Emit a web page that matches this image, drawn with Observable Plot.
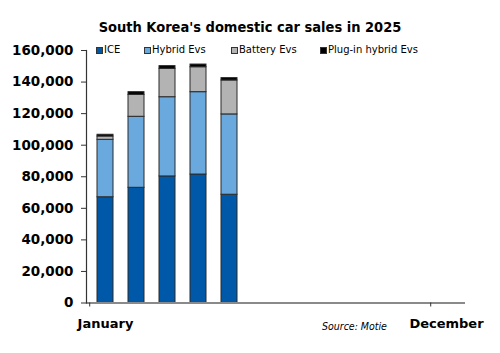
<!DOCTYPE html>
<html>
<head>
<meta charset="utf-8">
<script src="https://cdn.jsdelivr.net/npm/d3@7"></script>
<script src="https://cdn.jsdelivr.net/npm/@observablehq/plot@0.6"></script>
<style>
  body { margin: 0; background: #fff; font-family: "DejaVu Sans", Verdana, sans-serif; }
  #wrap { position: relative; width: 500px; height: 353px; overflow: hidden; }
  #title { position: absolute; top: 19px; left: 0; width: 500px; text-align: center; font-family: "DejaVu Sans Condensed", "DejaVu Sans", sans-serif; font-weight: bold; font-size: 14.5px; line-height: 17px; color: #000; }
  #legend { position: absolute; top: 44px; left: 0; font-size: 10px; line-height: 12px; color: #000; white-space: nowrap; }
  #legend span.sw { position: absolute; top: 3px; width: 5px; height: 5px; border: 1px solid #333; }
  #legend span.tx { position: absolute; top: 0; }
  #source { position: absolute; top: 320px; left: 322px; font-family: "DejaVu Sans Condensed", "DejaVu Sans", sans-serif; font-size: 10.5px; font-style: italic; line-height: 13px; color: #000; white-space: nowrap; }
  #chart { position: absolute; top: 0; left: 0; }
</style>
</head>
<body>
<div id="wrap">
  <div id="chart"></div>
  <div id="title"></div>
  <div id="legend"></div>
  <div id="source">Source: Motie</div>
</div>
<script>
const months = ["January","February","March","April","May","June","July","August","September","October","November","December"];
const salesMonths = ["January","February","March","April","May"];
const ice = [67000, 73000, 80200, 81400, 68600];
const hybrid = [36400, 45000, 50200, 52200, 50900];
const battery = [2100, 13900, 18000, 15800, 21500];
const phev = [1100, 1700, 1700, 1700, 1500];
const seriesNames = ["ICE", "Hybrid Evs", "Battery Evs", "Plug-in hybrid Evs"];
const seriesColors = ["#0058a8", "#69a9de", "#b3b3b3", "#000000"];
const yTicks = [0, 20000, 40000, 60000, 80000, 100000, 120000, 140000, 160000];
const labeledMonths = ["January", "December"];
const titleText = "South Korea's domestic car sales in 2025";

document.getElementById("title").textContent = titleText;

const seriesValues = [ice, hybrid, battery, phev];
const rows = [];
salesMonths.forEach((m, i) => {
  seriesNames.forEach((s, j) => rows.push({month: m, type: s, value: seriesValues[j][i]}));
});

const W = 500, H = 353, ML = 86, MR = 35;
const step = (W - ML - MR) / months.length;

const chart = Plot.plot({
  width: W, height: H,
  marginLeft: ML, marginRight: MR, marginTop: 50, marginBottom: 50.5,
  style: {fontFamily: "'DejaVu Sans', Verdana, sans-serif", background: "transparent"},
  x: {domain: months, paddingInner: 0.49, paddingOuter: 0.245, axis: null},
  y: {domain: [0, 160000], axis: null},
  color: {domain: seriesNames, range: seriesColors},
  marks: [
    Plot.barY(rows, Plot.stackY({x: "month", y: "value", fill: "type", order: seriesNames, stroke: "#2a2a2a", strokeWidth: 1})),
    Plot.ruleY([0], {stroke: "#8a8a8a", strokeWidth: 1.8}),
    Plot.frame({anchor: "left", stroke: "#333", strokeWidth: 1.2}),
    Plot.axisY({ticks: yTicks, label: null, tickSize: 5, tickPadding: 8, tickFormat: d3.format(","), fontSize: 13.5, fontWeight: "bold", stroke: "#333", color: "#000"}),
    Plot.axisX({ticks: labeledMonths, label: null, tickSize: 4, dx: -step / 2, tickFormat: () => "", stroke: "#333"}),
    Plot.axisX({ticks: labeledMonths, label: null, tickSize: 0, tickPadding: 16, fontSize: 13, fontWeight: "bold", color: "#000"})
  ]
});
document.getElementById("chart").appendChild(chart);

const legend = document.getElementById("legend");
const swatchX = [96, 144, 231, 320];
const textX = [104, 152, 239, 328];
seriesNames.forEach((s, j) => {
  const sw = document.createElement("span");
  sw.className = "sw";
  sw.style.left = swatchX[j] + "px";
  sw.style.background = seriesColors[j];
  legend.appendChild(sw);
  const tx = document.createElement("span");
  tx.className = "tx";
  tx.style.left = textX[j] + "px";
  tx.textContent = s;
  legend.appendChild(tx);
});
</script>
</body>
</html>
